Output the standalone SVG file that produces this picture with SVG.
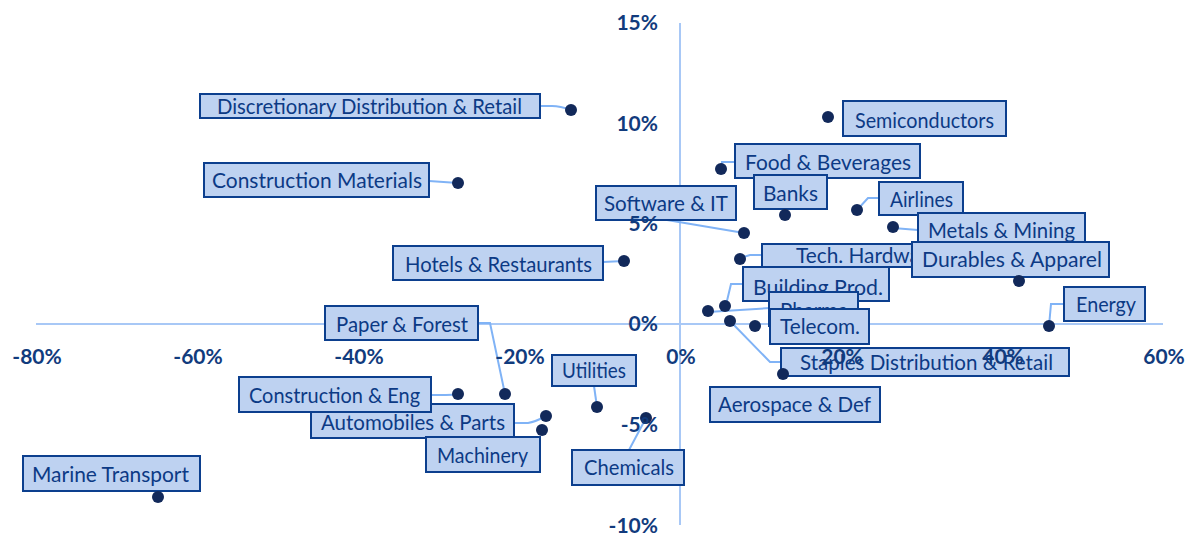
<svg xmlns="http://www.w3.org/2000/svg" width="1187" height="535" viewBox="0 0 1187 535">
<style>
.box{fill:#bed2f1;stroke:#0c3f8e;stroke-width:2}
.lbl{font-family:Lato,"Liberation Sans",sans-serif;font-size:21px;fill:#0c3a85}
.dot{fill:#12295a}
.conn{fill:none;stroke:#80b3f6;stroke-width:2}
.axis{stroke:#a8c8f6;stroke-width:2}
.tick{font-family:Lato,"Liberation Sans",sans-serif;font-weight:bold;font-size:21px;fill:#113b7d}
</style>
<rect width="1187" height="535" fill="#ffffff"/>
<g id="axes">
<line class="axis" x1="36" y1="324" x2="1163" y2="324"/>
<line class="axis" x1="680" y1="23" x2="680" y2="525"/>
</g>
<g id="connectors">
<path class="conn" d="M540,106 L552,106 Q560,106 571,110"/>
<path class="conn" d="M429,181 L458,183"/>
<path class="conn" d="M722,169 L722,162 L735,162"/>
<path class="conn" d="M857,210 L868,198 L879,198"/>
<path class="conn" d="M893,228 L918,230"/>
<path class="conn" d="M667,220 L744,233"/>
<path class="conn" d="M740,258 L750,255 L762,255"/>
<path class="conn" d="M726,305 L731,284 L743,284"/>
<path class="conn" d="M708,312 L770,308"/>
<path class="conn" d="M730,321 L770,362 L781,362"/>
<path class="conn" d="M1049,326 L1051,304 L1064,304"/>
<path class="conn" d="M603,262 L624,261"/>
<path class="conn" d="M478,323 L490,323 L505,394"/>
<path class="conn" d="M431,395 L446,395 Q452,395 458,394"/>
<path class="conn" d="M514,423 L528,423 Q535,422 546,416"/>
<path class="conn" d="M594,386 L597,407"/>
<path class="conn" d="M629,450 L646,418"/>
</g>
<g id="n-discretionary"><rect class="box" x="200" y="94" width="340" height="24"/><text class="lbl" x="217" y="114" textLength="305" lengthAdjust="spacingAndGlyphs">Discretionary Distribution &amp; Retail</text><circle class="dot" cx="571" cy="110" r="6"/></g>
<g id="n-constr-mat"><rect class="box" x="204" y="163" width="225" height="34"/><text class="lbl" x="212" y="188" textLength="210" lengthAdjust="spacingAndGlyphs">Construction Materials</text><circle class="dot" cx="458" cy="183" r="6"/></g>
<g id="n-semis"><rect class="box" x="843" y="101" width="163" height="35"/><text class="lbl" x="855" y="128" textLength="139" lengthAdjust="spacingAndGlyphs">Semiconductors</text><circle class="dot" cx="828" cy="117" r="6"/></g>
<g id="n-food"><rect class="box" x="735" y="144" width="185" height="34"/><text class="lbl" x="745" y="170" textLength="166" lengthAdjust="spacingAndGlyphs">Food &amp; Beverages</text><circle class="dot" cx="721" cy="169" r="6"/></g>
<g id="n-banks"><rect class="box" x="754" y="175" width="73" height="34"/><text class="lbl" x="763" y="201" textLength="55" lengthAdjust="spacingAndGlyphs">Banks</text><circle class="dot" cx="785" cy="215" r="6"/></g>
<g id="n-airlines"><rect class="box" x="879" y="182" width="84" height="33"/><text class="lbl" x="890" y="207" textLength="63" lengthAdjust="spacingAndGlyphs">Airlines</text><circle class="dot" cx="857" cy="210" r="6"/></g>
<g id="n-metals"><rect class="box" x="918" y="213" width="167" height="34"/><text class="lbl" x="928" y="238" textLength="147" lengthAdjust="spacingAndGlyphs">Metals &amp; Mining</text><circle class="dot" cx="893" cy="227" r="6"/></g>
<g id="n-tech"><rect class="box" x="762" y="244" width="206" height="23"/><text class="lbl" x="796" y="263" textLength="142" lengthAdjust="spacingAndGlyphs">Tech. Hardware</text><circle class="dot" cx="740" cy="259" r="6"/></g>
<g id="n-durables"><rect class="box" x="912" y="242" width="197" height="35"/><text class="lbl" x="922" y="267" textLength="180" lengthAdjust="spacingAndGlyphs">Durables &amp; Apparel</text><circle class="dot" cx="1019" cy="281" r="6"/></g>
<g id="n-software"><rect class="box" x="596" y="186" width="140" height="34"/><text class="lbl" x="604" y="211" textLength="124" lengthAdjust="spacingAndGlyphs">Software &amp; IT</text><circle class="dot" cx="744" cy="233" r="6"/></g>
<g id="n-hotels"><rect class="box" x="393" y="246" width="210" height="34"/><text class="lbl" x="405" y="272" textLength="187" lengthAdjust="spacingAndGlyphs">Hotels &amp; Restaurants</text><circle class="dot" cx="624" cy="261" r="6"/></g>
<g id="n-building"><rect class="box" x="743" y="267" width="146" height="34"/><text class="lbl" x="753" y="295" textLength="130" lengthAdjust="spacingAndGlyphs">Building Prod.</text><circle class="dot" cx="725" cy="306" r="6"/></g>
<g id="n-pharma"><rect class="box" x="769" y="292" width="89" height="34"/><text class="lbl" x="780" y="318" textLength="68" lengthAdjust="spacingAndGlyphs">Pharma</text><circle class="dot" cx="708" cy="311" r="6"/></g>
<g id="n-telecom"><rect class="box" x="770" y="309" width="99" height="35"/><text class="lbl" x="780" y="334" textLength="80" lengthAdjust="spacingAndGlyphs">Telecom.</text><circle class="dot" cx="755" cy="326" r="6"/></g>
<g id="n-staples"><rect class="box" x="781" y="348" width="288" height="28"/><text class="lbl" x="800" y="370" textLength="253" lengthAdjust="spacingAndGlyphs">Staples Distribution &amp; Retail</text><circle class="dot" cx="730" cy="321" r="6"/></g>
<g id="n-aerospace"><rect class="box" x="710" y="387" width="170" height="35"/><text class="lbl" x="718" y="412" textLength="153" lengthAdjust="spacingAndGlyphs">Aerospace &amp; Def</text><circle class="dot" cx="783" cy="374" r="6"/></g>
<g id="n-energy"><rect class="box" x="1064" y="287" width="81" height="34"/><text class="lbl" x="1076" y="312" textLength="60" lengthAdjust="spacingAndGlyphs">Energy</text><circle class="dot" cx="1049" cy="326" r="6"/></g>
<g id="n-paper"><rect class="box" x="325" y="306" width="153" height="34"/><text class="lbl" x="336" y="332" textLength="132" lengthAdjust="spacingAndGlyphs">Paper &amp; Forest</text><circle class="dot" cx="505" cy="394" r="6"/></g>
<g id="n-auto"><rect class="box" x="311" y="404" width="203" height="34"/><text class="lbl" x="321" y="430" textLength="184" lengthAdjust="spacingAndGlyphs">Automobiles &amp; Parts</text><circle class="dot" cx="546" cy="416" r="6"/></g>
<g id="n-constr-eng"><rect class="box" x="239" y="377" width="192" height="35"/><text class="lbl" x="249" y="403" textLength="171" lengthAdjust="spacingAndGlyphs">Construction &amp; Eng</text><circle class="dot" cx="458" cy="394" r="6"/></g>
<g id="n-machinery"><rect class="box" x="426" y="437" width="114" height="35"/><text class="lbl" x="437" y="463" textLength="91" lengthAdjust="spacingAndGlyphs">Machinery</text><circle class="dot" cx="542" cy="430" r="6"/></g>
<g id="n-utilities"><rect class="box" x="552" y="355" width="84" height="31"/><text class="lbl" x="562" y="378" textLength="64" lengthAdjust="spacingAndGlyphs">Utilities</text><circle class="dot" cx="597" cy="407" r="6"/></g>
<g id="n-chemicals"><rect class="box" x="572" y="450" width="112" height="35"/><text class="lbl" x="584" y="475" textLength="90" lengthAdjust="spacingAndGlyphs">Chemicals</text><circle class="dot" cx="646" cy="418" r="6"/></g>
<g id="n-marine"><rect class="box" x="23" y="456" width="177" height="35"/><text class="lbl" x="32" y="482" textLength="157" lengthAdjust="spacingAndGlyphs">Marine Transport</text><circle class="dot" cx="158" cy="497" r="6"/></g>
<g id="ticks">
<text class="tick" x="658" y="30" text-anchor="end">15%</text>
<text class="tick" x="658" y="131" text-anchor="end">10%</text>
<text class="tick" x="658" y="231" text-anchor="end">5%</text>
<text class="tick" x="658" y="331" text-anchor="end">0%</text>
<text class="tick" x="658" y="432" text-anchor="end">-5%</text>
<text class="tick" x="658" y="533" text-anchor="end">-10%</text>
<text class="tick" x="37" y="364" text-anchor="middle">-80%</text>
<text class="tick" x="198" y="364" text-anchor="middle">-60%</text>
<text class="tick" x="359" y="364" text-anchor="middle">-40%</text>
<text class="tick" x="520" y="364" text-anchor="middle">-20%</text>
<text class="tick" x="681" y="364" text-anchor="middle">0%</text>
<text class="tick" x="842" y="364" text-anchor="middle">20%</text>
<text class="tick" x="1003" y="364" text-anchor="middle">40%</text>
<text class="tick" x="1164" y="364" text-anchor="middle">60%</text>
</g>
</svg>
